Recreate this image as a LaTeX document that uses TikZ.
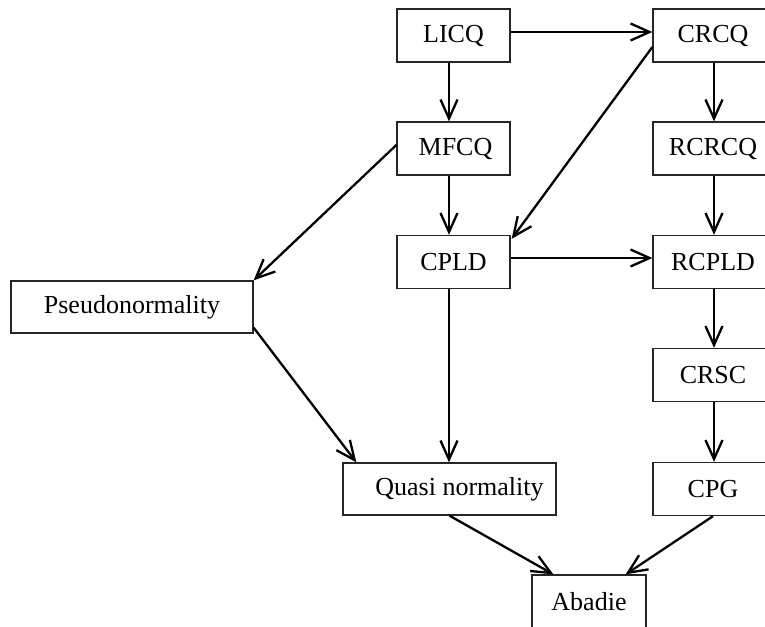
\documentclass[tikz,border=0pt]{standalone}
\usepackage{fontspec}
\setmainfont{Liberation Serif}
\usetikzlibrary{arrows.meta}
\begin{document}
\begin{tikzpicture}[x=1pt,y=-1pt,
  box/.style={draw=black!85, line width=1.3pt, inner sep=0pt, minimum height=53pt,
    font=\fontsize{26pt}{30pt}\selectfont},
  lbox/.style={box, minimum width=113pt},
  rbox/.style={box, minimum width=120pt},
  arr/.style={line width=2.3pt, -{Straight Barb[length=19pt,width=17pt,line width=2.3pt]}}]
\useasboundingbox (0,0) rectangle (765,626);
\node[lbox] (licq) at (453.5,35.5) {LICQ};
\node[rbox] (crcq) at (713,35.5) {CRCQ};
\node[lbox] (mfcq) at (453.5,148.5) {\hspace*{4pt}MFCQ};
\node[rbox] (rcrcq) at (713,148.5) {RCRCQ};
\node[lbox] (cpld) at (453.5,262) {CPLD};
\node[rbox] (rcpld) at (713,262) {RCPLD};
\node[box, minimum width=242pt, minimum height=52pt] (pseudo) at (132,307) {Pseudonormality};
\node[rbox] (crsc) at (713,375) {CRSC};
\node[box, minimum width=213pt, minimum height=52pt] (quasi) at (449.5,489) {\hspace*{20pt}Quasi normality};
\node[rbox] (cpg) at (713,489) {CPG};
\node[box, minimum width=114pt] (abadie) at (589,601.5) {Abadie};

\draw[arr] ([yshift=3.5pt]licq.east) -- ([yshift=3.5pt]crcq.west);
\draw[arr] ([xshift=-4.5pt]licq.south) -- ([xshift=-4.5pt]mfcq.north);
\draw[arr] ([xshift=1pt]crcq.south) -- ([xshift=1pt]rcrcq.north);
\draw[arr] ([xshift=-4.5pt]mfcq.south) -- ([xshift=-4.5pt]cpld.north);
\draw[arr] ([xshift=1pt]rcrcq.south) -- ([xshift=1pt]rcpld.north);
\draw[arr] ([yshift=-11.5pt]crcq.west) -- ([xshift=1pt,yshift=-4pt]cpld.north east);
\draw[arr] ([yshift=3.5pt]mfcq.west) -- (pseudo.north east);
\draw[arr] ([yshift=4pt]cpld.east) -- ([yshift=4pt]rcpld.west);
\draw[arr] ([xshift=1pt]rcpld.south) -- ([xshift=1pt]crsc.north);
\draw[arr] ([xshift=1pt]crsc.south) -- ([xshift=1pt]cpg.north);
\draw[arr] ([xshift=-4.5pt]cpld.south) -- ([xshift=-0.5pt]quasi.north);
\draw[arr] ([yshift=6pt]pseudo.south east) -- ([xshift=14pt]quasi.north west);
\draw[arr] (quasi.south) -- ([xshift=22pt]abadie.north west);
\draw[arr] (cpg.south) -- ([xshift=-21pt]abadie.north east);
\end{tikzpicture}
\end{document}
